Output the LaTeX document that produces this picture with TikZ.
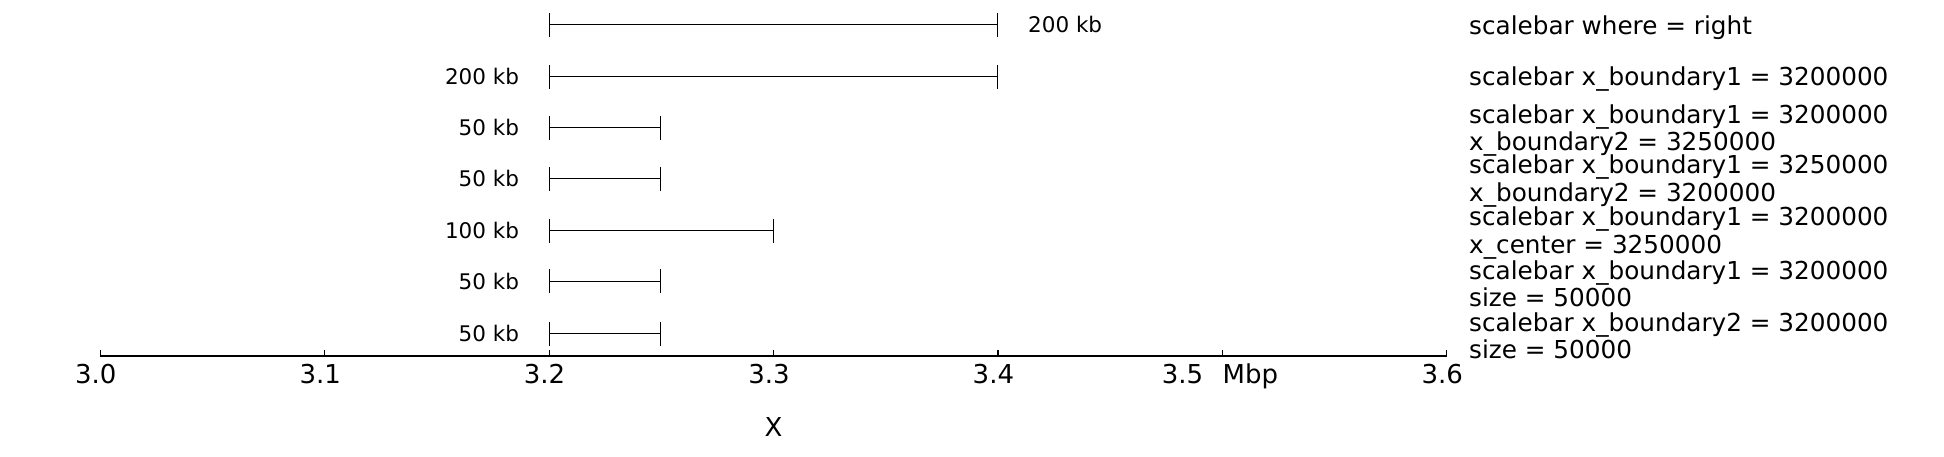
\documentclass[tikz,border=0pt]{standalone}
\usepackage{fontspec}
\setmainfont{DejaVu Sans}
\usetikzlibrary{positioning, arrows.meta}

\tikzset{
  bar/.style={line width=1pt, {Bar[width=24pt]}-{Bar[width=24pt]}},
  kblabel/.style={inner sep=0pt, font=\fontsize{21.5}{24}\selectfont},
  note/.style={anchor=west, inner sep=0pt, align=left, font=\fontsize{24.7}{27.3}\selectfont},
  ticklabel/.style={anchor=base, inner sep=0pt, font=\fontsize{26}{30}\selectfont}
}

\begin{document}
\begin{tikzpicture}[x=1pt, y=-1pt, line cap=butt, line join=round]

	% Khung hình
	\useasboundingbox (0,0) rectangle (1944,456);

	% Trục theo Mbp
	\begin{scope}[x=2244pt, xshift=-6631.6pt]

		% Các thanh tỉ lệ
		\coordinate (b1l) at (3.2,24.8);  \coordinate (b1r) at (3.4,24.8);
		\coordinate (b2l) at (3.2,76.9);  \coordinate (b2r) at (3.4,76.9);
		\coordinate (b3l) at (3.2,127.7); \coordinate (b3r) at (3.25,127.7);
		\coordinate (b4l) at (3.2,178.5); \coordinate (b4r) at (3.25,178.5);
		\coordinate (b5l) at (3.2,230.6); \coordinate (b5r) at (3.3,230.6);
		\coordinate (b6l) at (3.2,281.4); \coordinate (b6r) at (3.25,281.4);
		\coordinate (b7l) at (3.2,333.5); \coordinate (b7r) at (3.25,333.5);
		\draw[bar] (b1l) -- (b1r);
		\draw[bar] (b2l) -- (b2r);
		\draw[bar] (b3l) -- (b3r);
		\draw[bar] (b4l) -- (b4r);
		\draw[bar] (b5l) -- (b5r);
		\draw[bar] (b6l) -- (b6r);
		\draw[bar] (b7l) -- (b7r);

		% Nhãn độ dài
		\node[kblabel, right=30pt of b1r] (k1) {200 kb};
		\node[kblabel, left=30pt of b2l] (k2) {200 kb};
		\node[kblabel, left=30pt of b3l] (k3) {50 kb};
		\node[kblabel, left=30pt of b4l] (k4) {50 kb};
		\node[kblabel, left=30pt of b5l] (k5) {100 kb};
		\node[kblabel, left=30pt of b6l] (k6) {50 kb};
		\node[kblabel, left=30pt of b7l] (k7) {50 kb};

		% Trục hoành và vạch chia
		\coordinate (a0) at (3.0,356);
		\coordinate (a1) at (3.6,356);
		\draw[line width=1.3pt] (a0) -- (a1);
		\foreach \t/\lab [count=\i] in {3.0/3.0, 3.1/3.1, 3.2/3.2, 3.3/3.3, 3.4/3.4, 3.6/3.6}{
			\draw[line width=1.1pt] (\t,356) -- ++(0,-6);
			\node[ticklabel, xshift=-4.6pt] (t\i) at (\t,383) {\lab};
		}
		\draw[line width=1.1pt] (3.5,356) -- ++(0,-6);
		\node[ticklabel, anchor=base east, xshift=-19pt] (t7) at (3.5,383) {3.5};
		\node[ticklabel, anchor=base west] (mbp) at (3.5,383) {Mbp};

		% Tên trục
		\node[ticklabel] (xlab) at (3.3,436) {X};
	\end{scope}

	% Chú thích bên phải
	\node[note] (n1) at (1469,27.3) {scalebar where = right};
	\node[note] (n2) at (1469,79.4) {scalebar x\_boundary1 = 3200000};
	\node[note] (n3) at (1469,130.2) {scalebar x\_boundary1 = 3200000\\x\_boundary2 = 3250000};
	\node[note] (n4) at (1469,181) {scalebar x\_boundary1 = 3250000\\x\_boundary2 = 3200000};
	\node[note] (n5) at (1469,233.1) {scalebar x\_boundary1 = 3200000\\x\_center = 3250000};
	\node[note] (n6) at (1469,283.9) {scalebar x\_boundary1 = 3200000\\size = 50000};
	\node[note] (n7) at (1469,336) {scalebar x\_boundary2 = 3200000\\size = 50000};

\end{tikzpicture}
\end{document}
